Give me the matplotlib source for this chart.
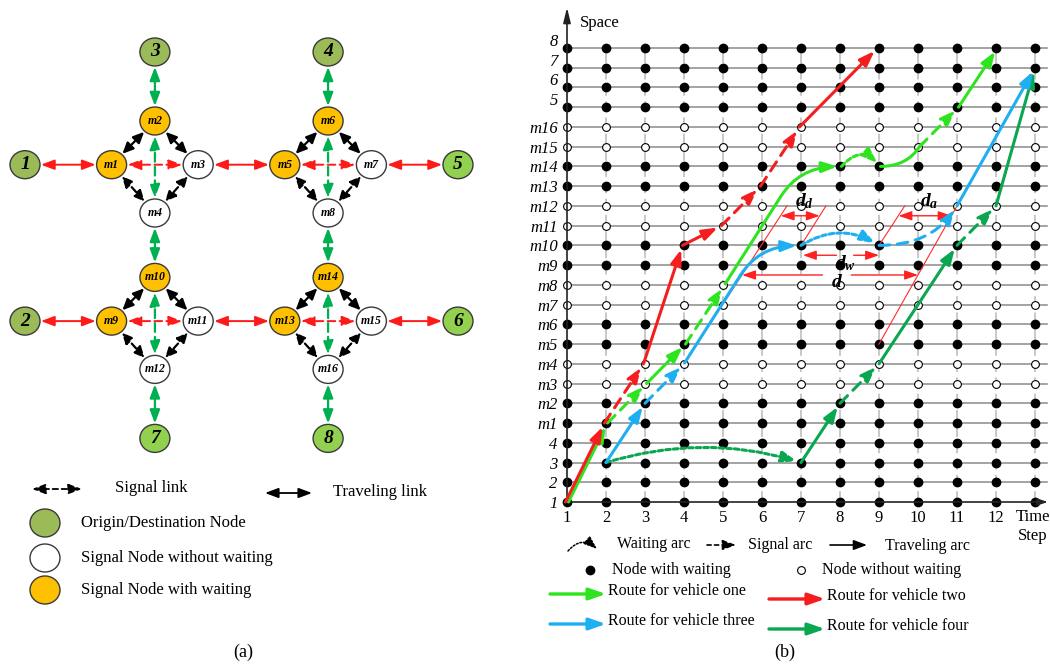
import math
import matplotlib
matplotlib.use("Agg")
import matplotlib.pyplot as plt
from matplotlib.patches import Ellipse, FancyArrowPatch
from matplotlib.transforms import ScaledTranslation

plt.rcParams['font.family'] = ['Liberation Serif', 'DejaVu Serif']
plt.rcParams['mathtext.fontset'] = 'custom'
plt.rcParams['mathtext.rm'] = 'Liberation Serif'
plt.rcParams['mathtext.it'] = 'Liberation Serif:italic'
plt.rcParams['mathtext.bf'] = 'Liberation Serif:bold'
plt.rcParams['mathtext.bfit'] = 'Liberation Serif:italic:bold'

#---------------------------------------(a) network data-----------------------
od_names = ['1', '2', '3', '4', '5', '6', '7', '8']
od_x = [0, 0, 3, 7, 10, 10, 3, 7]
od_y = [2.45, 5.85, 0, 0, 2.45, 5.85, 8.4, 8.4]
sig_names = ['m%d' % i for i in range(1, 17)]
sig_x = [2, 3, 4, 3, 6, 7, 8, 7, 2, 3, 4, 3, 6, 7, 8, 7]
sig_y = [2.45, 1.5, 2.45, 3.5, 2.45, 1.5, 2.45, 3.5,
         5.85, 4.9, 5.85, 6.9, 5.85, 4.9, 5.85, 6.9]
sig_wait = ['m1', 'm2', 'm5', 'm6', 'm9', 'm10', 'm13', 'm14']

red_travel = [('1', 'm1'), ('m3', 'm5'), ('m7', '5'), ('2', 'm9'), ('m11', 'm13'), ('m15', '6')]
red_signal = [('m1', 'm3'), ('m5', 'm7'), ('m9', 'm11'), ('m13', 'm15')]
green_travel = [('3', 'm2'), ('4', 'm6'), ('m4', 'm10'), ('m8', 'm14'), ('m12', '7'), ('m16', '8')]
green_signal = [('m2', 'm4'), ('m6', 'm8'), ('m10', 'm12'), ('m14', 'm16')]
black_travel = [('m1', 'm2'), ('m2', 'm3'), ('m5', 'm6'), ('m6', 'm7'),
                ('m9', 'm10'), ('m10', 'm11'), ('m13', 'm14'), ('m14', 'm15')]
black_signal = [('m1', 'm4'), ('m3', 'm4'), ('m5', 'm8'), ('m7', 'm8'),
                ('m9', 'm12'), ('m11', 'm12'), ('m13', 'm16'), ('m15', 'm16')]

#---------------------------------------(b) space-time data-----------------------
steps = list(range(1, 14))
space_labels = ['1', '2', '3', '4'] + sig_names + ['5', '6', '7', '8']

route_one = [('travel', (1, '1'), (2, 'm1')),
             ('signal', (2, 'm1'), (3, 'm3')),
             ('travel', (3, 'm3'), (4, 'm5')),
             ('signal', (4, 'm5'), (5, 'm8')),
             ('bend', (5, 'm8'), (8, 'm14')),
             ('wait', (8, 'm14'), (9, 'm14')),
             ('rise', (9, 'm14'), (10, 'm15')),
             ('signal', (10, 'm15'), (11, '5')),
             ('travel', (11, '5'), (12, '8'))]
route_two = [('travel', (1, '1'), (2, 'm1')),
             ('signal', (2, 'm1'), (3, 'm4')),
             ('travel', (3, 'm4'), (4, 'm10')),
             ('travel', (4, 'm10'), (5, 'm11')),
             ('signal', (5, 'm11'), (6, 'm13')),
             ('signal', (6, 'm13'), (7, 'm16')),
             ('travel', (7, 'm16'), (9, '8'))]
route_three = [('travel', (2, '3'), (3, 'm2')),
               ('signal', (3, 'm2'), (4, 'm4')),
               ('bend', (4, 'm4'), (7, 'm10')),
               ('wait', (7, 'm10'), (9, 'm10')),
               ('signalrise', (9, 'm10'), (11, 'm12')),
               ('travel', (11, 'm12'), (13, '7'))]
route_four = [('wait', (2, '3'), (7, '3')),
              ('travel', (7, '3'), (8, 'm2')),
              ('signal', (8, 'm2'), (9, 'm4')),
              ('travel', (9, 'm4'), (11, 'm10')),
              ('signal', (11, 'm10'), (12, 'm12')),
              ('travel', (12, 'm12'), (13, '7'))]

# thin reference lines (step, space index) and headways
ref_t0 = [4, 7, 9, 9]
ref_s0 = [7, 13, 13, 8]
ref_t1 = [6.64, 7.64, 9.66, 11.0]
ref_s1 = [15, 15, 15, 15]
gap_names = [r'$\mathbfit{d}_{\mathbfit{d}}$', r'$\mathbfit{d}_{\mathbfit{a}}$',
             r'$\mathbfit{d}_{\mathbfit{w}}$', r'$\mathbfit{d}$']
gap_row = [14.5, 14.5, 12.5, 11.5]
gap_left = [6.48, 9.5, 7.05, 5.49]
gap_right = [7.48, 10.86, 9.0, 10.0]

#---------------------------------------figure-----------------------
W, H = 1050, 669
fig = plt.figure(figsize=(W / 100, H / 100), dpi=100)

def fpx(x, y):
    return (x / W, 1 - y / H)

# ---- (a)
A_OX, A_OY, A_UX, A_UY = 25, 52, 43.3, 46
ax_a = fig.add_axes([0, 0, 500 / W, 1])
ax_a.set_xlim((0 - A_OX) / A_UX, (500 - A_OX) / A_UX)
ax_a.set_ylim((H - A_OY) / A_UY, (0 - A_OY) / A_UY)
ax_a.axis('off')

pos = {}
for n, x, y in zip(od_names + sig_names, od_x + sig_x, od_y + sig_y):
    pos[n] = (x, y)

nodes = {}
for n in od_names + sig_names:
    if n in od_names:
        fc = '#9bbb59' if int(n) <= 4 else '#92d050'
    elif n in sig_wait:
        fc = '#ffc000'
    else:
        fc = 'white'
    e = Ellipse(pos[n], 30 / A_UX, 28 / A_UY, fc=fc, ec='#3a3a3a', lw=1, zorder=3)
    ax_a.add_patch(e)
    nodes[n] = e
    if n in od_names:
        ax_a.text(pos[n][0], pos[n][1], n, ha='center', va='center', fontsize=14,
                  fontweight='bold', fontstyle='italic', zorder=4)
    else:
        ax_a.text(pos[n][0], pos[n][1], n, ha='center', va='center', fontsize=8.5,
                  fontweight='bold', fontstyle='italic', zorder=4)

def link(a, b, color, dashed, lw, hl, hw, dash=(4, 2.2)):
    p = FancyArrowPatch(pos[a], pos[b], patchA=nodes[a], patchB=nodes[b],
                        arrowstyle='<|-|>,head_length=%s,head_width=%s' % (hl, hw),
                        mutation_scale=10, color=color, lw=lw,
                        linestyle=(0, dash) if dashed else '-',
                        shrinkA=1, shrinkB=1, zorder=2)
    ax_a.add_patch(p)

for a, b in red_travel:
    link(a, b, '#ff1a1a', False, 1.4, 0.8, 0.3)
for a, b in red_signal:
    link(a, b, '#ff1a1a', True, 1.4, 0.8, 0.3)
for a, b in green_travel:
    link(a, b, '#00b050', False, 1.6, 0.8, 0.3)
for a, b in green_signal:
    link(a, b, '#00b050', True, 1.6, 0.8, 0.3)
for a, b in black_travel:
    link(a, b, 'black', False, 1.6, 0.65, 0.3)
for a, b in black_signal:
    link(a, b, 'black', True, 1.6, 0.65, 0.3, dash=(3, 2.5))

# legend (a)
def fig_arrow(p0, p1, color, style, lw, ls='-', conn='arc3', ms=10):
    p = FancyArrowPatch(fpx(*p0), fpx(*p1), transform=fig.transFigure,
                        arrowstyle=style, connectionstyle=conn, mutation_scale=ms,
                        color=color, lw=lw, linestyle=ls, shrinkA=0, shrinkB=0)
    fig.add_artist(p)

fig_arrow((32, 489), (82, 489), 'black', '<|-|>,head_length=0.8,head_width=0.3', 1.3, (0, (3, 2)))
fig.text(*fpx(115, 488), 'Signal link', fontsize=12, va='center')
fig_arrow((265, 493), (312, 493), 'black', '<|-|>,head_length=0.8,head_width=0.3', 1.3)
fig.text(*fpx(333, 492), 'Traveling link', fontsize=12, va='center')
leg_nodes = [('#9bbb59', 'Origin/Destination Node', 523),
             ('white', 'Signal Node without waiting', 558),
             ('#ffc000', 'Signal Node with waiting', 590)]
for fc, txt, yy in leg_nodes:
    e = Ellipse(fpx(45, yy), 30 / W, 28 / H, fc=fc, ec='#3a3a3a', lw=1,
                transform=fig.transFigure)
    fig.add_artist(e)
    fig.text(*fpx(81, yy), txt, fontsize=12, va='center')
fig.text(*fpx(243, 652), '(a)', fontsize=13, ha='center', va='center')

# ---- (b)
OX, OY, PS, PR = 567, 502, 39.0, 19.74
x0, x1, y0, y1 = 0.8, 13.35, -0.35, 25.3
left = OX + (x0 - 1) * PS
right = OX + (x1 - 1) * PS
bottom = OY - y0 * PR
top = OY - y1 * PR
ax = fig.add_axes([left / W, 1 - bottom / H, (right - left) / W, (bottom - top) / H])
ax.set_xlim(x0, x1)
ax.set_ylim(y0, y1)
for sp in ax.spines.values():
    sp.set_visible(False)
ax.patch.set_alpha(0)

ax.set_xticks(steps[:-1])
ax.set_xticklabels([str(s) for s in steps[:-1]], fontsize=12)
ax.set_yticks(range(len(space_labels)))
ax.set_yticklabels(space_labels, fontsize=12, fontstyle='italic')
ax.tick_params(length=0, pad=1)
for lbl in ax.get_yticklabels()[-4:]:
    lbl.set_transform(lbl.get_transform() + ScaledTranslation(0, 0.08, fig.dpi_scale_trans))

row = {s: i for i, s in enumerate(space_labels)}
n_rows = len(space_labels)

# grid
for i in range(1, n_rows):
    ax.plot([1, x1 - 0.05], [i, i], color='#8a8a8a', lw=1.1, zorder=1, clip_on=False)
for t in steps[1:]:
    ax.plot([t, t], [0, n_rows - 1], color='#c4c4c4', lw=1.3, ls=(0, (6, 3)), zorder=1, clip_on=False)

# axes arrows
ax.annotate('', xy=(1, 25.05), xytext=(1, 0), annotation_clip=False,
            arrowprops=dict(arrowstyle='-|>,head_length=0.9,head_width=0.22', mutation_scale=10,
                            lw=1.2, color='#222222', shrinkA=0, shrinkB=0))
ax.annotate('', xy=(x1 - 0.02, 0), xytext=(1, 0), annotation_clip=False,
            arrowprops=dict(arrowstyle='-|>,head_length=0.6,head_width=0.2', mutation_scale=10,
                            lw=1.2, color='#222222', shrinkA=0, shrinkB=0))
fig.text(*fpx(600, 23), 'Space', fontsize=12, ha='center', va='center')
fig.text(*fpx(1033, 517), 'Time', fontsize=12, ha='center', va='center')
fig.text(*fpx(1033, 536), 'Step', fontsize=12, ha='center', va='center')

# nodes
for s in space_labels:
    i = row[s]
    if s.startswith('m') and s not in sig_wait:
        ax.plot(steps, [i] * len(steps), 'o', ms=5.6, mfc='white', mec='black', mew=0.8,
                zorder=2, clip_on=False)
    else:
        ax.plot(steps, [i] * len(steps), 'o', ms=6, color='black', zorder=2, clip_on=False)

# reference lines and headways
for a, b, c, d in zip(ref_t0, ref_s0, ref_t1, ref_s1):
    ax.plot([a, c], [b, d], color='#ff2a2a', lw=0.8, zorder=3, clip_on=False)

RED_HEAD = '-|>,head_length=0.8,head_width=0.28'
def hd_arrow(ta, tb, s):
    ax.annotate('', xy=(tb, s), xytext=(ta, s), annotation_clip=False,
                arrowprops=dict(arrowstyle=RED_HEAD, mutation_scale=10, lw=1.0,
                                color='#ff2020', shrinkA=0, shrinkB=0))

for k, (nm, s, tl, tr) in enumerate(zip(gap_names, gap_row, gap_left, gap_right)):
    if k < 2:
        ax.annotate('', xy=(tr, s), xytext=(tl, s), annotation_clip=False,
                    arrowprops=dict(arrowstyle='<|-|>,head_length=0.8,head_width=0.28',
                                    mutation_scale=10, lw=1.0, color='#ff2020',
                                    shrinkA=0, shrinkB=0))
        ax.text((tl + tr) / 2 + 0.1, s + 0.75, nm, fontsize=14, ha='center', va='center', zorder=6)
    else:
        mid = 8.13 if k == 2 else 7.92
        half = 0.22 if k == 2 else 0.37
        hd_arrow(mid - half, tl, s)
        hd_arrow(mid + half, tr, s)
        ax.text(mid, s - 0.4, nm, fontsize=14, ha='center', va='center', zorder=6)

# routes
K = 3.1
ANG = math.degrees(math.atan2(K * PR, PS))
HEAD = '-|>,head_length=0.9,head_width=0.32'
SIG = (0, (3.5, 2.5))
WAITLS = (0, (1.5, 1.0))

def route(segs, color, dx=0.0):
    tr = ax.transData + ScaledTranslation(dx / 100, 0, fig.dpi_scale_trans)
    for kind, (ta, sa), (tb, sb) in segs:
        A = (ta, row[sa])
        B = (tb, row[sb])
        kw = dict(mutation_scale=10, color=color, lw=2.2, shrinkA=0, shrinkB=3,
                  transform=tr, zorder=4, clip_on=False)
        if kind == 'travel':
            p = FancyArrowPatch(A, B, arrowstyle=HEAD, **kw)
        elif kind == 'signal':
            p = FancyArrowPatch(A, B, arrowstyle=HEAD, linestyle=SIG, **kw)
        elif kind == 'wait':
            h = 0.5 + 0.05 * (tb - ta)
            rad = -2 * h * PR / ((tb - ta) * PS)
            p = FancyArrowPatch(A, B, arrowstyle=HEAD, linestyle=WAITLS,
                                connectionstyle='arc3,rad=%.3f' % rad, **kw)
        elif kind == 'bend':
            tc = ta + (B[1] - A[1]) / K
            P = (ta + 0.75 * (tc - ta), A[1] + 0.75 * (B[1] - A[1]))
            ax.plot([A[0], P[0]], [A[1], P[1]], color=color, lw=2.2, transform=tr,
                    zorder=4, clip_on=False, solid_capstyle='butt')
            p = FancyArrowPatch(P, B, arrowstyle=HEAD,
                                connectionstyle='angle3,angleA=%.2f,angleB=0' % ANG, **kw)
        elif kind == 'rise':
            kw['shrinkB'] = 0
            p = FancyArrowPatch(A, B, arrowstyle='-',
                                connectionstyle='angle3,angleA=0,angleB=%.2f' % ANG, **kw)
        elif kind == 'signalrise':
            p = FancyArrowPatch(A, B, arrowstyle=HEAD, linestyle=SIG,
                                connectionstyle='angle3,angleA=0,angleB=%.2f' % ANG, **kw)
        ax.add_patch(p)

route(route_four, '#0aa650')
route(route_three, '#1eaff0')
route(route_one, '#2ee41e', dx=1.5)
route(route_two, '#f51d1d', dx=-1.5)

# legend (b)
fig_arrow((568, 551), (597, 549), 'black', '-|>,head_length=0.8,head_width=0.3', 1.1,
          (0, (1.2, 1.2)), conn='arc3,rad=-0.5')
fig.text(*fpx(617, 544), 'Waiting arc', fontsize=11.5, va='center')
fig_arrow((707, 545), (736, 545), 'black', '-|>,head_length=0.8,head_width=0.3', 1.2, (0, (2.5, 2)))
fig.text(*fpx(748, 545), 'Signal arc', fontsize=11.5, va='center')
fig_arrow((830, 545), (867, 545), 'black', '-|>,head_length=0.8,head_width=0.3', 1.2)
fig.text(*fpx(885, 546), 'Traveling arc', fontsize=11.5, va='center')

ax.plot(*fpx(590, 570), 'o', ms=6, color='black', transform=fig.transFigure, clip_on=False)
fig.text(*fpx(612, 570), 'Node with waiting', fontsize=11.5, va='center')
ax.plot(*fpx(801, 570), 'o', ms=5.6, mfc='white', mec='black', mew=0.8,
        transform=fig.transFigure, clip_on=False)
fig.text(*fpx(822, 570), 'Node without waiting', fontsize=11.5, va='center')

leg_routes = [('#2ee41e', 'Route for vehicle one', 550, 591),
              ('#f51d1d', 'Route for vehicle two', 769, 596),
              ('#1eaff0', 'Route for vehicle three', 550, 621),
              ('#0aa650', 'Route for vehicle four', 769, 626)]
for c, txt, lx, ly in leg_routes:
    fig_arrow((lx, ly + 3), (lx + 56, ly + 3), c, '-|>,head_length=1.0,head_width=0.35', 2.4)
    fig.text(*fpx(lx + 58, ly), txt, fontsize=11.5, va='center')

fig.text(*fpx(785, 652), '(b)', fontsize=13, ha='center', va='center')

fig.savefig('out.png', dpi=100, facecolor='white')
